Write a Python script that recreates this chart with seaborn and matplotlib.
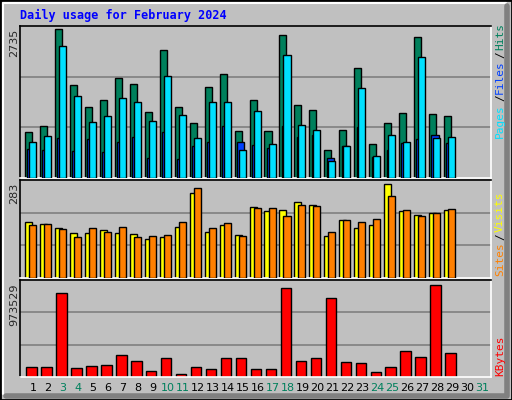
import matplotlib
matplotlib.use("Agg")
import matplotlib.pyplot as plt
import seaborn as sns
import numpy as np
from matplotlib.lines import Line2D

sns.set_style("white")
plt.rcParams['font.family'] = ['DejaVu Sans Mono', 'DejaVu Sans']

days = list(range(1, 32))
day_labels = [str(d) for d in days]
weekend_days = [3, 4, 10, 11, 17, 18, 24, 25, 31]

# values (days 1..29)
hits = [851, 963, 2735, 1712, 1302, 1433, 1842, 1730, 1209, 2344, 1302, 1005, 1675, 1916, 856, 1433,
        856, 2623, 1340, 1247, 521, 874, 2028, 633, 1005, 1191, 2586, 1172, 1135]
files = [540, 521, 726, 502, 707, 484, 670, 744, 372, 837, 353, 595, 670, 949, 670, 614,
         558, 949, 744, 781, 372, 595, 930, 391, 521, 651, 707, 781, 651]
pages = [670, 763, 2419, 1507, 1023, 1135, 1470, 1395, 1042, 1879, 1153, 726, 1395, 1395, 521, 1228,
         633, 2251, 967, 874, 316, 595, 1656, 409, 781, 670, 2214, 726, 744]
visits = [169, 163, 151, 135, 135, 145, 135, 132, 117, 123, 154, 255, 138, 160, 129, 215,
          203, 206, 228, 221, 126, 175, 151, 160, 283, 203, 191, 197, 206]
sites = [160, 163, 148, 123, 151, 138, 154, 123, 126, 129, 169, 271, 151, 166, 126, 212,
         212, 188, 221, 218, 138, 175, 169, 178, 246, 206, 188, 197, 209]
kbytes = [110146, 110146, 888257, 99487, 120805, 131464, 227395, 174100, 67509, 195418, 35530, 110146,
          88828, 195418, 195418, 88828, 88828, 941553, 174100, 195418, 834962, 163441, 152782, 56850,
          110146, 270032, 206077, 973529, 248713]

hit_max, site_max, kb_max = 2735, 283, 973529
BG = "#C0C0C0"

fig = plt.figure(figsize=(5.12, 4.0), dpi=100, facecolor=BG)
W, H = 512, 400
def rect(x0, y0, x1, y1):
    return [x0 / W, 1 - y1 / H, (x1 - x0) / W, (y1 - y0) / H]

axes = [fig.add_axes(rect(20, 26, 491, 178)),
        fig.add_axes(rect(20, 180, 491, 278)),
        fig.add_axes(rect(20, 280, 491, 377))]
ylims = [hit_max * 150 / 147, site_max * 96 / 92, kb_max * 96 / 91.3]
for ax, yl in zip(axes, ylims):
    ax.set_facecolor(BG)
    ax.set_xlim(0.13, 31.6)
    ax.set_ylim(0, yl)
    for f in (1 / 3, 2 / 3):
        ax.axhline(yl * f, color="#808080", lw=1.2, zorder=0)
    ax.set_xticks([]); ax.set_yticks([])
    for s in ax.spines.values():
        s.set_color("black"); s.set_linewidth(1.2)
    ax.spines['bottom'].set_color("white")
    ax.spines['right'].set_color("white")

x = np.arange(1, 30)
kw = dict(edgecolor="black", linewidth=1.0)
axes[0].bar(x - 0.30, hits, width=0.47, color="#00805C", zorder=2, **kw)
axes[0].bar(x - 0.13, files, width=0.5, color="#0040FF", zorder=3, **kw)
axes[0].bar(x - 0.03, pages, width=0.47, color="#00E0FF", zorder=4, **kw)
axes[1].bar(x - 0.30, visits, width=0.47, color="#FFFF00", zorder=2, **kw)
axes[1].bar(x - 0.03, sites, width=0.47, color="#FF8000", zorder=3, **kw)
axes[2].bar(x - 0.10, kbytes, width=0.7, color="#FF0000", zorder=2, **kw)

# day labels
for d, lab in zip(days, day_labels):
    c = "#00805C" if d in weekend_days else "black"
    fig.text((33 + (d - 1) * 14.97) / W, 1 - 388 / H, lab, color=c, fontsize=8,
             family=['DejaVu Sans'], ha="center", va="center")

fig.text(20 / W, 1 - 15 / H, "Daily usage for February 2024", color="#0000FF",
         fontsize=8.5, fontweight="bold", ha="left", va="center")
for y, lab in [(29, "2735"), (183, "283"), (283, "973529")]:
    fig.text(14 / W, 1 - y / H, lab, rotation=90, fontsize=8, family=['DejaVu Sans'],
             ha="center", va="top")

def right_label(ytop, parts):
    y = ytop
    for txt, col in parts:
        t = fig.text(500 / W, 1 - y / H, txt, rotation=90, color=col, fontsize=8,
                     ha="center", va="top")
        y += len(txt) * 7.2
right_label(28, [("Hits", "#00805C"), ("/", "black"), ("Files", "#0040FF"), ("/", "black"), ("Pages", "#00E0FF")][::-1][::-1])

# rotated text reads bottom-to-top: place from bottom
def right_label_bottom(ybot, parts):
    y = ybot
    for txt, col in parts:
        fig.text(500 / W, 1 - y / H, txt, rotation=90, color=col, fontsize=8,
                 ha="center", va="bottom")
        y -= len(txt) * 7.3
fig.texts = fig.texts[:-5]
right_label_bottom(138, [("Pages", "#00E0FF"), ("/", "black"), ("Files", "#0040FF"), ("/", "black"), ("Hits", "#00805C")])
right_label_bottom(276, [("Sites", "#FF8000"), ("/", "black"), ("Visits", "#FFFF00")])
right_label_bottom(376, [("KBytes", "#FF0000")])

# 3D border
fig.add_artist(Line2D([0, 1, 1, 0, 0], [0, 0, 1, 1, 0], transform=fig.transFigure, color="black", lw=2))
fig.add_artist(Line2D([3 / W, 3 / W, 1 - 6 / W], [6 / H, 1 - 3 / H, 1 - 3 / H], transform=fig.transFigure, color="white", lw=1.5))
fig.add_artist(Line2D([6 / W, 1 - 5 / W, 1 - 5 / W], [4 / H, 4 / H, 1 - 6 / H], transform=fig.transFigure, color="#808080", lw=4))

fig.savefig("out.png", dpi=100, facecolor=BG)
